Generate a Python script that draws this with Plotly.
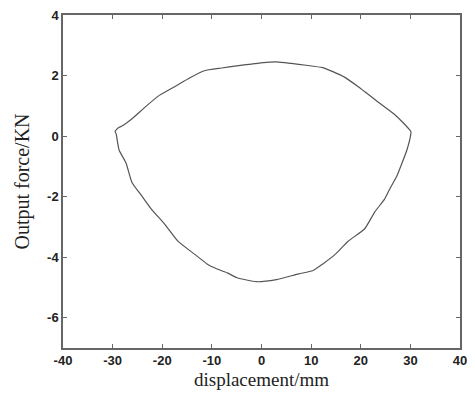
import plotly.graph_objects as go

# Upper branch (left tip -> right tip)
upper_x = [-29.5, -28.9, -28.1, -26.1, -23.5, -20.8, -17.4, -14.5, -11.5, -8.0, -5.0, -2.0, 0.4, 3.0,
           6.0, 9.0, 12.3, 14.5, 16.8, 19.5, 22.2, 24.5, 26.7, 28.5, 30.1]
upper_y = [0.15, 0.27, 0.33, 0.57, 0.95, 1.32, 1.64, 1.92, 2.16, 2.25, 2.32, 2.38, 2.43, 2.45,
           2.40, 2.34, 2.26, 2.12, 1.94, 1.63, 1.29, 1.00, 0.73, 0.45, 0.15]
# Lower branch (right tip -> left tip)
lower_x = [30.1, 29.3, 28.3, 27.3, 26.0, 24.8, 22.8, 20.8, 17.4, 14.9, 12.3, 10.3, 7.5, 3.0,
           -1.0, -4.9, -6.9, -9.5, -10.9, -13.5, -16.8, -19.4, -22.2, -24.2, -26.1, -27.3,
           -28.7, -29.3, -29.5]
lower_y = [0.08, -0.46, -0.90, -1.31, -1.70, -2.08, -2.51, -3.06, -3.48, -3.90, -4.23, -4.45,
           -4.55, -4.74, -4.81, -4.68, -4.52, -4.35, -4.23, -3.90, -3.48, -2.93, -2.41, -1.96,
           -1.53, -0.89, -0.46, 0.08, 0.15]

x_ticks = [-40, -30, -20, -10, 0, 10, 20, 30, 40]
y_ticks = [-6, -4, -2, 0, 2, 4]

fig = go.Figure()
fig.add_trace(go.Scatter(x=upper_x + lower_x, y=upper_y + lower_y, mode="lines",
                         line=dict(color="#555555", width=1.2, shape="spline", smoothing=0.5),
                         showlegend=False))

axis_common = dict(showline=True, linecolor="#666666", linewidth=1.5, mirror="ticks",
                   ticks="inside", ticklen=4, tickwidth=1, tickcolor="#666666",
                   showgrid=False, zeroline=False,
                   tickfont=dict(family="Liberation Sans", size=13, color="#222222", weight="bold"))

fig.update_layout(
    width=475, height=397,
    margin=dict(l=63, r=8, t=10, b=49),
    paper_bgcolor="white", plot_bgcolor="white",
    xaxis=dict(range=[-40, 40], tickvals=x_ticks, ticktext=[str(v) for v in x_ticks],
               title=dict(text="displacement/mm", standoff=5,
                          font=dict(family="Liberation Serif", size=19, color="#222222")),
               **axis_common),
    yaxis=dict(range=[-7, 4], tickvals=y_ticks, ticktext=[str(v) for v in y_ticks],
               title=dict(text="Output force/KN", standoff=12,
                          font=dict(family="Liberation Serif", size=20, color="#222222")),
               **axis_common),
)

fig.write_html("out.html")
